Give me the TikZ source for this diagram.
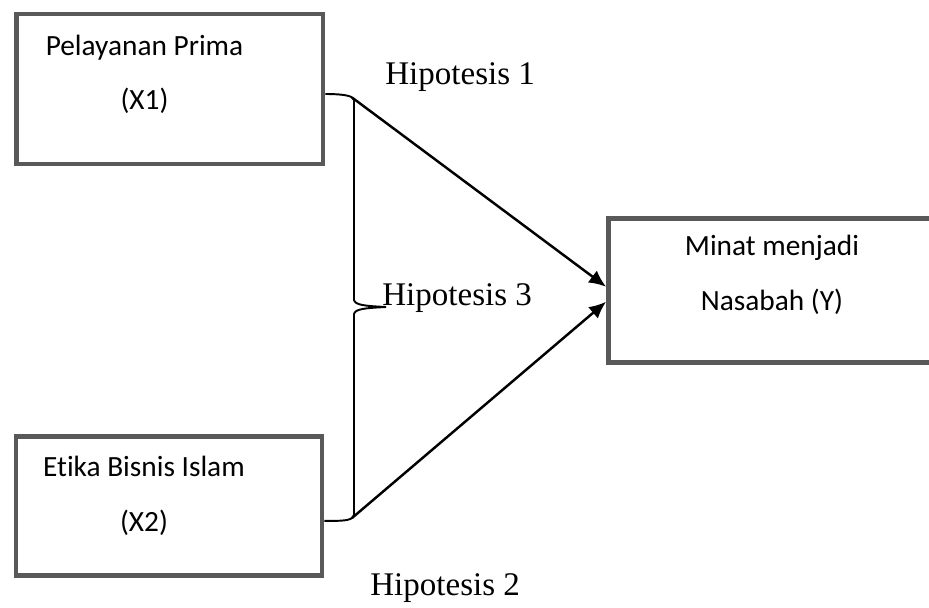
\documentclass[tikz,border=0pt]{standalone}
\usepackage{fontspec}
\setmainfont{Liberation Serif}
\newfontfamily\boxfont[Ligatures=NoCommon]{Carlito}
\usepackage{tikz}
\usetikzlibrary{arrows.meta,positioning,calc}
\definecolor{BoxGray}{RGB}{89,89,89}

\begin{document}
\begin{tikzpicture}[
  x=0.02cm, y=-0.02cm,
  box/.style={
    draw=BoxGray,
    line width=2.8pt,
    inner sep=0pt
  },
  boxtext/.style={
    align=center,
    inner sep=0pt,
    font=\boxfont\fontsize{16.7}{31.3}\selectfont
  },
  hyp/.style={
    anchor=base west,
    inner sep=0pt,
    font=\fontsize{18.8}{22}\selectfont
  },
  arr/.style={-{Latex[length=0.34cm,width=0.3cm]}, line width=1.4pt},
  brace/.style={line width=1.1pt}
]
\useasboundingbox (0,0) rectangle (929,608);
\clip (0,0) rectangle (929,608);

% the three variables
\node[box, minimum width=6.13cm, minimum height=3.0cm] (prima) at (169.75,89) {};
\node[box, minimum width=6.12cm, minimum height=2.78cm] (etika) at (169,506.3) {};
\node[box, minimum width=6.8cm, minimum height=2.87cm] (minat) at (778.5,290.35) {};

\node[boxtext, anchor=base] (primatext) at (144.5,110) {Pelayanan Prima\\(X1)};
\node[boxtext, anchor=base] (etikatext) at (144,531.7) {Etika Bisnis Islam\\(X2)};
\node[boxtext, anchor=base] (minattext) at (772,310) {Minat menjadi\\Nasabah (Y)};

% brace joining the two hypotheses
\coordinate (top) at (352,97.5);
\coordinate (bottom) at (352,518);
\coordinate (tip) at (386,307);
\draw[brace] ($(prima.east)+(0,5)$) .. controls (338,94) and (349,95) .. (top)
  -- (354,100) -- (354,300) .. controls (355,305) and (365,306) .. (tip)
  .. controls (365,308) and (355,309) .. (354,314) -- (354,515)
  -- (bottom) .. controls (348,521) and (338,521) .. ($(etika.east)+(0,14.5)$);

\draw[arr] (top) -- ($(minat.west)+(0,-3.6)$);
\draw[arr] (bottom) -- ($(minat.west)+(0,11.4)$);

\node[hyp] (hip1) at (385,85) {Hipotesis 1};
\node[hyp] (hip3) at (382,305) {Hipotesis 3};
\node[hyp] (hip2) at (370,595) {Hipotesis 2};
\end{tikzpicture}
\end{document}
